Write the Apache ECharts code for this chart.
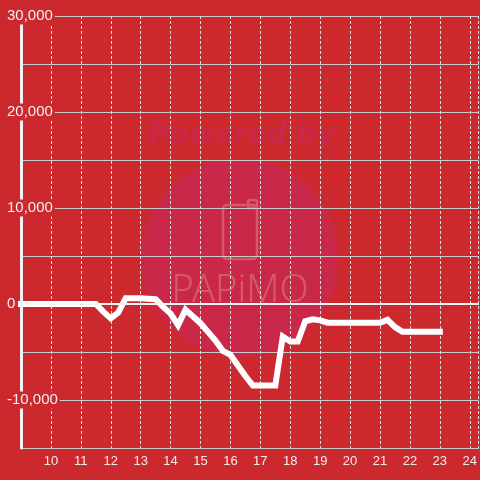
<!DOCTYPE html>
<html>
<head>
<meta charset="utf-8">
<script src="https://cdn.jsdelivr.net/npm/echarts@6/dist/echarts.min.js"></script>
<style>html,body{margin:0;padding:0;background:#cc292e;}#c{width:480px;height:480px;}</style>
</head>
<body>
<div id="c"></div>
<script>
const hours = [9, 11.5, 11.75, 12, 12.25, 12.5, 12.75, 13, 13.25, 13.5, 13.75, 14, 14.25, 14.5, 14.75,
  15, 15.25, 15.5, 15.75, 16, 16.25, 16.5, 16.75, 17, 17.25, 17.5, 17.75, 18, 18.25, 18.5, 18.75,
  19, 19.25, 19.5, 19.75, 20, 20.25, 20.5, 20.75, 21, 21.25, 21.5, 21.75, 22, 22.25, 22.5, 22.75, 23];
const values = [0, 0, -800, -1500, -900, 600, 600, 600, 550, 500, -300, -1000, -2200, -600, -1300,
  -2000, -2900, -3800, -4900, -5300, -6400, -7500, -8500, -8500, -8500, -8500, -3400, -3900, -3900, -1800, -1600,
  -1700, -1950, -1950, -1950, -1950, -1950, -1950, -1950, -1950, -1650, -2400, -2900, -2900, -2900, -2900, -2900, -2900];
const yTicks = [-10000, 0, 10000, 20000, 30000];
const xTicks = [10, 11, 12, 13, 14, 15, 16, 17, 18, 19, 20, 21, 22, 23, 24];

const bg = '#cc292e';
const chart = echarts.init(document.getElementById('c'));
const fmtY = v => yTicks.indexOf(v) >= 0 ? v.toLocaleString('en-US') : '';
chart.setOption({
  backgroundColor: bg,
  animation: false,
  grid: { left: 21, right: 0, top: 16, bottom: 32 },
  graphic: [
    { type: 'circle', z: -10, shape: { cx: 240, cy: 258, r: 99 }, style: { fill: '#c92848' } },
    { type: 'text', z: -10, x: 242, y: 136, style: { text: 'Powered by', fill: '#c92848', font: 'italic bold 28px "DejaVu Sans"', textAlign: 'center', textVerticalAlign: 'middle' } },
    { type: 'rect', z: -9, shape: { x: 223, y: 205, width: 34, height: 54, r: 4 }, style: { fill: 'none', stroke: '#d45a66', lineWidth: 2.5 } },
    { type: 'rect', z: -9, shape: { x: 248, y: 200, width: 9, height: 8, r: 2 }, style: { fill: 'none', stroke: '#d45a66', lineWidth: 2.5 } },
    { type: 'text', z: -9, x: 240, y: 291, style: { text: 'PAPiMO', fill: '#d45a66', font: '300 38px "Noto Sans"', textAlign: 'center', textVerticalAlign: 'middle' } }
  ],
  xAxis: {
    type: 'value', min: 9, max: 24.3, interval: 1,
    axisLine: { show: true, onZero: false, lineStyle: { color: '#cccccc', width: 1 } },
    axisTick: { show: false },
    axisLabel: { color: '#eeeeee', fontSize: 13, fontFamily: 'Liberation Sans', margin: 7, showMaxLabel: false, showMinLabel: false,
      formatter: v => xTicks.indexOf(v) >= 0 ? String(v) : '' },
    splitLine: { show: true, lineStyle: { color: '#dddddd', width: 1, type: [3, 2] } }
  },
  yAxis: [
    {
      type: 'value', min: -15000, max: 30000, interval: 5000,
      axisLine: { show: false }, axisTick: { show: false }, axisLabel: { show: false },
      splitLine: { show: true, lineStyle: { color: '#cccccc', width: 1 } }
    },
    {
      type: 'value', min: -15000, max: 30000, interval: 5000, position: 'left', z: 5,
      axisLine: { show: true, onZero: false, lineStyle: { color: '#f2f2f2', width: 3 } },
      axisTick: { show: false },
      splitLine: { show: false },
      axisLabel: { color: '#eeeeee', fontSize: 15, fontFamily: 'Liberation Sans', align: 'left', margin: 16,
        backgroundColor: bg, padding: [1, 2, 1, 2], formatter: fmtY }
    }
  ],
  series: [{
    type: 'line',
    yAxisIndex: 0,
    clip: false,
    data: hours.map((h, i) => [h, values[i]]),
    showSymbol: false,
    symbol: 'none',
    lineStyle: { color: '#ffffff', width: 6, cap: 'square', join: 'miter' },
    markLine: {
      silent: true, symbol: 'none', label: { show: false },
      lineStyle: { color: '#f5f5f5', width: 2, type: 'solid' },
      data: [{ yAxis: 0 }]
    },
    z: 3
  }]
});
</script>
</body>
</html>
